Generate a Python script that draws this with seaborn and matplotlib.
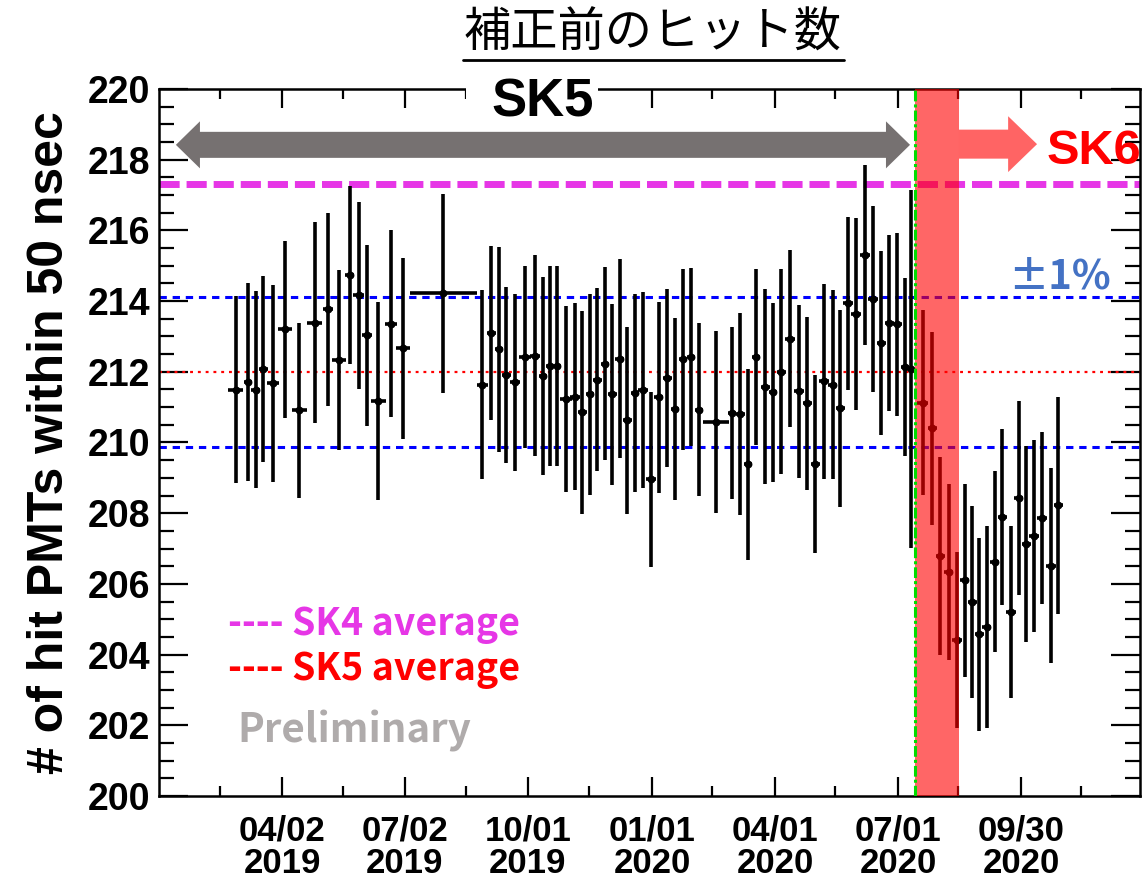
import numpy as np
import pandas as pd
import matplotlib
matplotlib.use("Agg")
import matplotlib.pyplot as plt
import matplotlib.dates as mdates
from matplotlib.patches import Polygon, Rectangle
from matplotlib.lines import Line2D
from matplotlib.ticker import FixedLocator, MultipleLocator
import seaborn as sns

# ---------------- data ----------------
START_DATE = "2019-01-01"          # day 0 of the time axis
days = [56.7, 65.8, 71.5, 77.2, 84.3, 93.4, 103.8, 115.2, 125.0, 133.4, 141.1, 147.8,
        154.1, 162.3, 171.7, 180.6, 210.4, 239.3, 245.9, 251.4, 257.0, 263.2, 271.1,
        278.3, 284.0, 289.1, 294.6, 301.0, 307.9, 313.3, 318.8, 324.4, 330.1, 335.5,
        341.0, 346.6, 352.1, 358.2, 364.1, 369.8, 376.0, 381.9, 387.6, 393.7, 399.7,
        412.2, 424.3, 430.2, 435.7, 441.9, 448.7, 454.4, 460.4, 467.2, 473.5, 479.6,
        485.7, 492.2, 498.6, 504.3, 510.0, 516.1, 522.5, 528.2, 534.4, 540.3, 546.4,
        552.1, 556.6, 565.2, 572.3, 578.3, 584.5, 590.4, 596.3, 601.7, 607.1, 612.6,
        618.5, 624.2, 630.6, 636.3, 641.7, 647.6, 653.8, 660.0, 665.6]
hits = [211.49, 211.72, 211.49, 212.09, 211.67, 213.20, 210.91, 213.39, 213.77, 212.33,
        214.73, 214.16, 213.03, 211.18, 213.36, 212.66, 214.22, 211.64, 213.10, 212.64,
        211.91, 211.70, 212.42, 212.46, 211.89, 212.17, 212.17, 211.22, 211.30, 210.85,
        211.36, 211.78, 212.23, 211.36, 212.37, 210.63, 211.39, 211.49, 208.96, 211.28,
        211.82, 210.95, 212.35, 212.42, 210.93, 210.58, 210.84, 210.80, 209.39, 212.43,
        211.58, 211.42, 212.00, 212.94, 211.45, 211.11, 209.39, 211.73, 211.63, 210.97,
        213.94, 213.64, 215.30, 214.06, 212.81, 213.37, 213.34, 212.13, 212.08, 211.13,
        210.40, 206.80, 206.34, 204.41, 206.11, 205.48, 204.57, 204.79, 206.63, 207.89,
        205.21, 208.44, 207.13, 207.36, 207.86, 206.51, 208.22]
hit_err = [2.64, 2.80, 2.79, 2.63, 2.79, 2.50, 2.48, 2.84, 2.73, 2.55, 2.52, 2.65, 2.56,
           2.80, 2.64, 2.57, 2.81, 2.67, 2.46, 2.90, 2.49, 2.51, 2.57, 2.84, 2.80, 2.83,
           2.83, 2.63, 2.65, 2.87, 2.84, 2.58, 2.73, 2.57, 2.82, 2.65, 2.80, 2.78, 2.48,
           2.70, 2.52, 2.57, 2.56, 2.53, 2.45, 2.58, 2.44, 2.86, 2.70, 2.49, 2.76, 2.54,
           2.90, 2.50, 2.45, 2.44, 2.52, 2.75, 2.67, 2.79, 2.45, 2.71, 2.55, 2.64, 2.60,
           2.49, 2.59, 2.51, 5.06, 2.62, 2.73, 2.80, 2.49, 2.48, 2.73, 2.71, 2.73, 2.86,
           2.55, 2.49, 2.43, 2.74, 2.78, 2.71, 2.43, 2.76, 3.07]
day_err = [5.5, 3.2, 3.3, 3.3, 4.3, 5.3, 5.7, 5.7, 3.7, 5.2, 3.5, 4.0, 3.5, 5.5, 4.7, 4.9,
           25.0, 4.0, 3.2, 3.0, 3.3, 3.7, 4.4, 3.7, 3.1, 2.8, 2.8, 4.3, 3.5, 3.1, 3.1, 3.2,
           3.1, 3.1, 3.2, 3.1, 3.1, 3.5, 3.5, 3.2, 3.3, 3.2, 3.1, 3.2, 3.2, 9.6, 3.0, 3.2,
           3.1, 3.1, 3.2, 3.2, 3.3, 3.7, 3.5, 3.3, 3.2, 3.6, 3.5, 3.1, 3.6, 3.7, 3.6, 3.6,
           3.3, 3.3, 3.3, 3.0, 2.5, 4.2, 3.5, 3.2, 3.3, 3.6, 3.2, 3.3, 3.2, 3.2, 3.5, 3.5,
           3.7, 3.3, 3.3, 3.5, 3.7, 3.6, 3.2]

sk4_average = 217.3
sk5_average = 212.0
band_days = [559.5, 592.0]          # SK5 -> SK6 transition period
x_range_days = [0.0, 726.0]
tick_dates = ["2019-04-02", "2019-07-02", "2019-10-01", "2020-01-01",
              "2020-04-01", "2020-07-01", "2020-09-30"]
tick_labels = ["04/02\n2019", "07/02\n2019", "10/01\n2019", "01/01\n2020",
               "04/01\n2020", "07/01\n2020", "09/30\n2020"]
y_ticks = [200, 202, 204, 206, 208, 210, 212, 214, 216, 218, 220]

# ---------------- style ----------------
sns.set_theme(style="white")
plt.rcParams["font.family"] = ["Liberation Sans", "Noto Sans CJK JP", "DejaVu Sans"]
plt.rcParams["text.color"] = "black"
plt.rcParams["axes.labelcolor"] = "black"
plt.rcParams["xtick.color"] = "black"
plt.rcParams["ytick.color"] = "black"

fig = plt.figure(figsize=(11.43, 8.82), dpi=100)
ax = fig.add_axes([0.13911, 0.09751, 0.85827, 0.80159])

base = pd.Timestamp(START_DATE)
base_num = mdates.date2num(base)
df = pd.DataFrame({"date": base + pd.to_timedelta(days, unit="D"),
                   "hits": hits, "err": hit_err, "derr": day_err})
xnum = base_num + np.asarray(days)

sns.scatterplot(data=df, x="date", y="hits", color="black", s=32, linewidth=0,
                zorder=4, ax=ax, legend=False)
ax.errorbar(xnum, df["hits"], yerr=df["err"], xerr=df["derr"], fmt="none",
            ecolor="black", elinewidth=2.6, capsize=0, zorder=3)

# reference lines
ax.axhline(sk4_average, color="#E636E6", lw=5, ls=(0, (2.9, 1.0)), zorder=2)
ax.axhline(sk5_average * 1.01, color="#0000FF", lw=2.2, ls=(0, (2.4, 1.9)), zorder=2)
ax.axhline(sk5_average * 0.99, color="#0000FF", lw=2.2, ls=(0, (2.4, 1.9)), zorder=2)
ax.axhline(sk5_average, color="#FF0000", lw=1.6, ls=(0, (1.3, 2.2)), zorder=2)

# transition band + green marker line
ax.axvspan(base_num + band_days[0], base_num + band_days[1], color="#FF0000",
           alpha=0.6, lw=0, zorder=5)
ax.axvline(base_num + band_days[0], color="#00DD00", lw=2.2,
           ls=(0, (3.5, 1.0, 1.0, 1.0)), zorder=6)

ax.set_xlim(base_num + x_range_days[0], base_num + x_range_days[1])
ax.set_ylim(200, 220)

# block arrows (annotations)
def block_arrow(x0, x1, yc, head_len, head_half, shaft_half, double, color):
    if double:
        pts = [(x0, yc), (x0 + head_len, yc + head_half), (x0 + head_len, yc + shaft_half),
               (x1 - head_len, yc + shaft_half), (x1 - head_len, yc + head_half), (x1, yc),
               (x1 - head_len, yc - head_half), (x1 - head_len, yc - shaft_half),
               (x0 + head_len, yc - shaft_half), (x0 + head_len, yc - head_half)]
    else:
        pts = [(x0, yc + shaft_half), (x1 - head_len, yc + shaft_half),
               (x1 - head_len, yc + head_half), (x1, yc),
               (x1 - head_len, yc - head_half), (x1 - head_len, yc - shaft_half),
               (x0, yc - shaft_half)]
    ax.add_patch(Polygon(pts, closed=True, facecolor=color, edgecolor="none",
                         zorder=7, clip_on=False))

block_arrow(base_num + 12.5, base_num + 555.8, 218.42, 17.8, 0.665, 0.368, True, "#767171")
block_arrow(base_num + 592.0, base_num + 649.8, 218.44, 21.4, 0.79, 0.41, False, "#FF6464")

# SK5 label breaking the top frame
ax.add_patch(Rectangle((base_num + 227.2, 219.3), 97.7, 1.2, facecolor="white",
                       edgecolor="none", zorder=9, clip_on=False))
ax.text(base_num + 284.0, 219.21, "SK5", ha="center", va="baseline", fontsize=38,
        fontweight="bold", color="black", zorder=10, clip_on=False)
ax.text(base_num + 657.2, 217.88, "SK6", ha="left", va="baseline", fontsize=35,
        fontweight="bold", color="#FF0000", zorder=10, clip_on=False)
ax.text(base_num + 628.4, 214.37, "±1%", ha="left", va="baseline", fontsize=29,
        fontweight="bold", color="#4472C4", family=["Noto Sans CJK JP", "DejaVu Sans"],
        zorder=10)

legend_font = ["Noto Sans CJK JP", "DejaVu Sans"]
ax.text(base_num + 51.0, 204.55, "---- SK4 average", ha="left", va="baseline",
        fontsize=27, fontweight="bold", color="#E636E6", family=legend_font, zorder=10)
ax.text(base_num + 51.0, 203.28, "---- SK5 average", ha="left", va="baseline",
        fontsize=27, fontweight="bold", color="#FF0000", family=legend_font, zorder=10)
ax.text(base_num + 57.7, 201.5, "Preliminary", ha="left", va="baseline",
        fontsize=29, fontweight="bold", color="#AFABAB", family=legend_font, zorder=10)

# axes, ticks
ax.set_xticks([mdates.date2num(pd.Timestamp(d)) for d in tick_dates])
ax.set_xticklabels(tick_labels)
minor_nums = [base_num + 45.5 + 91.0 * k for k in range(8)]
ax.xaxis.set_minor_locator(FixedLocator(minor_nums))
ax.set_yticks(y_ticks)
ax.yaxis.set_minor_locator(MultipleLocator(0.5))

ax.tick_params(axis="both", which="both", direction="in", top=True, right=True,
               bottom=True, left=True, color="black", labelcolor="black", width=1.6)
ax.tick_params(axis="x", which="major", length=14, pad=13)
ax.tick_params(axis="x", which="minor", length=7)
ax.tick_params(axis="y", which="major", length=21, pad=6.5, labelsize=27)
ax.tick_params(axis="y", which="minor", length=10.5)
for lab in ax.get_xticklabels():
    lab.set_fontfamily(["Liberation Sans Narrow", "Liberation Sans"])
    lab.set_fontsize(25)
    lab.set_fontweight("bold")
    lab.set_linespacing(0.98)
for lab in ax.get_yticklabels():
    lab.set_fontweight("bold")

for sp in ax.spines.values():
    sp.set_linewidth(1.8)
    sp.set_color("black")

ax.set_xlabel("")
ax.set_ylabel("# of hit PMTs within 50 nsec", fontsize=36, fontweight="bold",
              color="black")
ax.yaxis.set_label_coords(-0.088, 0.5)

# title with underline
fig.text(0.5713, 0.9626, "補正前のヒット数", ha="center", va="center", fontsize=34,
         family=["Noto Sans CJK JP", "DejaVu Sans"], color="black")
fig.add_artist(Line2D([0.4051, 0.7384], [0.932, 0.932], color="black", lw=2,
                      transform=fig.transFigure))

fig.savefig("out.png", dpi=100)
